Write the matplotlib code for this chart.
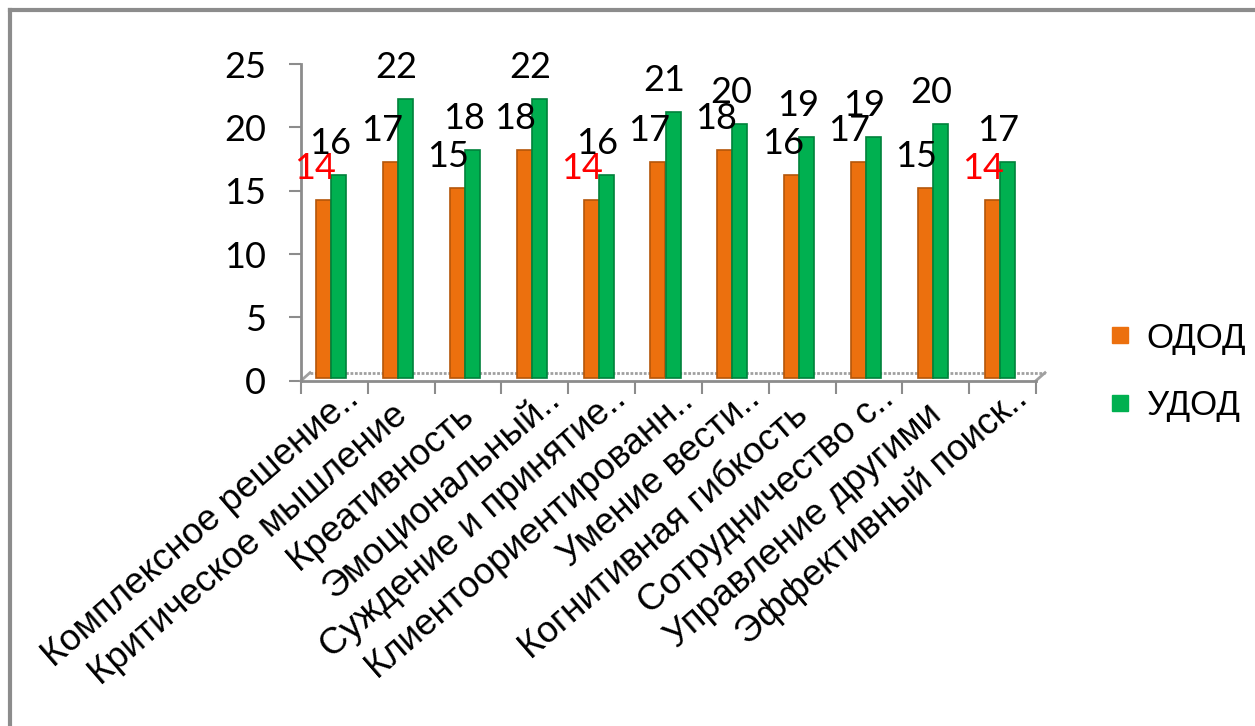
import matplotlib
matplotlib.use("Agg")
import matplotlib.pyplot as plt
import numpy as np
from matplotlib.transforms import ScaledTranslation, offset_copy
from matplotlib.lines import Line2D

categories = ["Комплексное решение..", "Критическое мышление", "Креативность",
              "Эмоциональный..", "Суждение и принятие..", "Клиентоориентированн..",
              "Умение вести..", "Когнитивная гибкость", "Сотрудничество с..",
              "Управление другими", "Эффективный поиск.."]
odod = [14, 17, 15, 18, 14, 17, 18, 16, 17, 15, 14]
udod = [16, 22, 18, 22, 16, 21, 20, 19, 19, 20, 17]
series_names = ["ОДОД", "УДОД"]
yticks = [0, 5, 10, 15, 20, 25]

ORANGE = "#EC700E"
ORANGE_EDGE = "#B4560A"
GREEN = "#00B050"
GREEN_EDGE = "#00823B"
GRAY = "#8C8C8C"

W, H = 1255, 726
fig = plt.figure(figsize=(W / 100, H / 100), dpi=100)
ax = fig.add_axes([301 / W, (H - 380.7) / H, 735 / W, (380.7 - 64) / H])

n = len(categories)
x = np.arange(n)
bw = 0.225

# 3D depth shift of the bars (style only)
shift = ScaledTranslation(-3 / 100, 3 / 100, fig.dpi_scale_trans)
bar_tr = ax.transData + shift

ax.bar(x - bw / 2, odod, bw, color=ORANGE, edgecolor=ORANGE_EDGE, linewidth=1.2,
       transform=bar_tr, zorder=3)
ax.bar(x + bw / 2, udod, bw, color=GREEN, edgecolor=GREEN_EDGE, linewidth=1.2,
       transform=bar_tr, zorder=3)

num_font = dict(family="Lato", fontsize=26)
min_o = min(odod)
for xi, v in zip(x - bw / 2, odod):
    ax.annotate(str(v), (xi, v), xycoords=bar_tr, xytext=(-9, 15),
                textcoords="offset pixels", ha="center", va="bottom",
                color="#FF0000" if v == min_o else "black", annotation_clip=False,
                **num_font)
for xi, v in zip(x + bw / 2, udod):
    ax.annotate(str(v), (xi, v), xycoords=bar_tr, xytext=(-9, 15),
                textcoords="offset pixels", ha="center", va="bottom",
                color="black", annotation_clip=False, **num_font)

ax.set_xlim(-0.5, n - 0.5)
ax.set_ylim(0, 25)
ax.set_yticks(yticks)
ax.set_yticklabels([str(t) for t in yticks], **num_font)
ax.tick_params(axis="y", length=9, width=1.5, color=GRAY, pad=16)

ROT = 41
ax.set_xticks(x)
ax.set_xticklabels(categories, rotation=ROT, ha="right", va="center",
                   rotation_mode="anchor", family="Liberation Sans", fontsize=26.5)
ax.tick_params(axis="x", which="major", length=0, pad=6)
ax.set_xticks(np.arange(n + 1) - 0.5, minor=True)
ax.tick_params(axis="x", which="minor", length=9, width=1.5, color=GRAY)
c, s_ = np.cos(np.radians(ROT)), np.sin(np.radians(ROT))
for lab in ax.get_xticklabels():
    back = 8 if lab.get_text().endswith("..") else 33
    dx = 26 - back * c
    dy = -back * s_
    lab.set_transform(lab.get_transform() +
                      ScaledTranslation(dx / 100, dy / 100, fig.dpi_scale_trans))

for s in ["top", "right"]:
    ax.spines[s].set_visible(False)
for s in ["left", "bottom"]:
    ax.spines[s].set_color(GRAY)
    ax.spines[s].set_linewidth(2)

# floor (3D back edge)
fl = offset_copy(ax.transAxes, fig=fig, x=9, y=8, units="dots")
ax.plot([0, 1], [0, 0], transform=fl, color="#A0A0A0", lw=2, ls=(0, (1, 0.6)),
        clip_on=False, zorder=2)
ax.add_line(Line2D([0, 9 / 735], [0, 8 / 316.7], transform=ax.transAxes, color="#A0A0A0",
                   lw=2, clip_on=False))
ax.add_line(Line2D([1, 1 + 9 / 735], [0, 8 / 316.7], transform=ax.transAxes, color="#A0A0A0",
                   lw=2, clip_on=False))

handles = [plt.Line2D([], [], marker="s", ls="", color=ORANGE, markersize=11),
           plt.Line2D([], [], marker="s", ls="", color=GREEN, markersize=11)]
fig.legend(handles, series_names, loc="center left",
           bbox_to_anchor=(1106 / W, 1 - 372 / H), frameon=False,
           prop=dict(family="Liberation Sans", size=25), labelspacing=1.0,
           handletextpad=0.35, handlelength=0.8, borderaxespad=0, borderpad=0)

# outer frame
fig.add_artist(Line2D([9.5 / W, 9.5 / W], [0, 1 - 10 / H], transform=fig.transFigure,
                      color=GRAY, lw=3))
fig.add_artist(Line2D([9.5 / W, 1], [1 - 10 / H, 1 - 10 / H], transform=fig.transFigure,
                      color=GRAY, lw=3))

fig.savefig("out.png", dpi=100)
